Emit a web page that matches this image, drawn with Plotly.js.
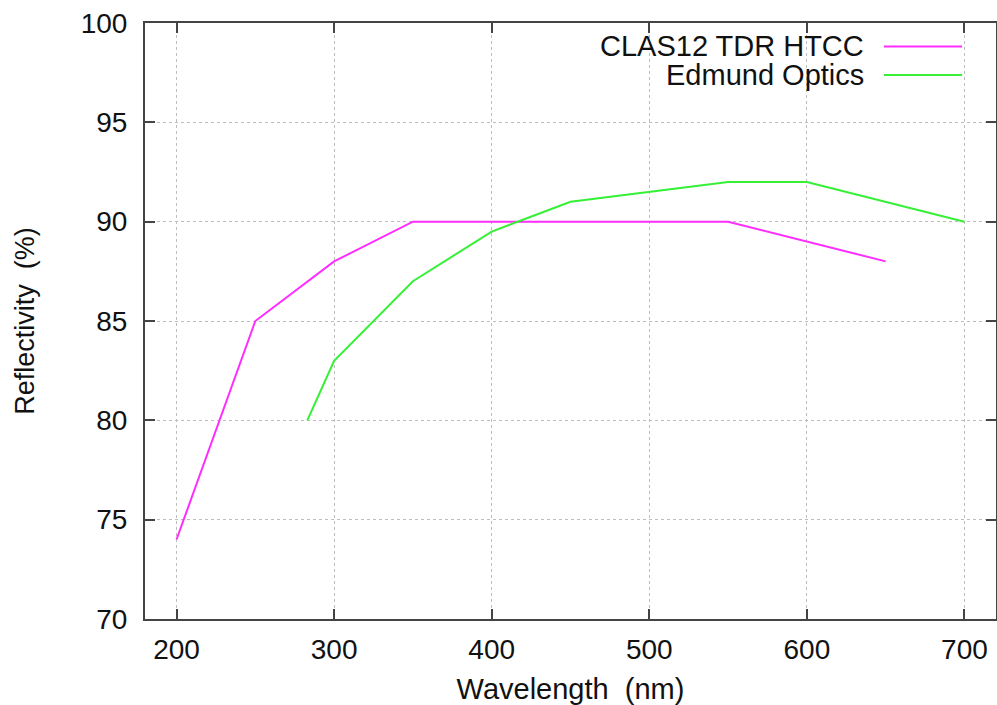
<!DOCTYPE html>
<html>
<head>
<meta charset="utf-8">
<script src="https://cdn.plot.ly/plotly-3.0.1.min.js"></script>
<style>
html,body{margin:0;padding:0;background:#fff;}
#chart{width:997px;height:705px;}
</style>
</head>
<body>
<div id="chart"></div>
<script>
// Data
const clasWavelength = [200, 250, 300, 350, 550, 600, 650];
const clasReflectivity = [74, 85, 88, 90, 90, 89, 88];
const edmundWavelength = [283, 300, 350, 400, 450, 550, 600, 700];
const edmundReflectivity = [80, 83, 87, 89.5, 91, 92, 92, 90];
const seriesNames = ["CLAS12 TDR HTCC", "Edmund Optics"];
const seriesColors = ["#ff2cff", "#35f035"];
const xTicks = [200, 300, 400, 500, 600, 700];
const yTicks = [70, 75, 80, 85, 90, 95, 100];

const font = "Liberation Sans, Arial, Helvetica, sans-serif";
const fs = 29;

const traces = [
  {x: clasWavelength, y: clasReflectivity, name: seriesNames[0], mode: "lines",
   line: {color: seriesColors[0], width: 2}, showlegend: false},
  {x: edmundWavelength, y: edmundReflectivity, name: seriesNames[1], mode: "lines",
   line: {color: seriesColors[1], width: 2}, showlegend: false}
];

const axisCommon = {
  showline: true, linecolor: "#444", linewidth: 2, mirror: "ticks",
  ticks: "inside", ticklen: 10, tickwidth: 2, tickcolor: "#444",
  showgrid: true, gridcolor: "#bdbdbd", gridwidth: 1, griddash: "dot",
  zeroline: false, tickfont: {family: font, size: 28, color: "#111"}
};

// Legend drawn by hand (text on the left, line sample on the right, as in gnuplot)
const W = 997, H = 705, ml = 145, mr = 1, mt = 23, mb = 86;
const pw = W - ml - mr, ph = H - mt - mb;
const px = v => (v - ml) / pw;
const py = v => 1 - (v - mt) / ph;

const shapes = [
  {type: "rect", xref: "paper", yref: "paper", x0: px(588), x1: px(992), y0: py(89), y1: py(24),
   fillcolor: "#fff", line: {width: 0}, layer: "between"},
  {type: "line", xref: "paper", yref: "paper", x0: px(884), x1: px(962), y0: py(46.5), y1: py(46.5),
   line: {color: seriesColors[0], width: 2}},
  {type: "line", xref: "paper", yref: "paper", x0: px(884), x1: px(962), y0: py(75), y1: py(75),
   line: {color: seriesColors[1], width: 2}}
];
const annotations = [
  {xref: "paper", yref: "paper", x: px(866), y: py(46), xanchor: "right", yanchor: "middle",
   text: seriesNames[0], showarrow: false, font: {family: font, size: fs, color: "#111"}},
  {xref: "paper", yref: "paper", x: px(866), y: py(75), xanchor: "right", yanchor: "middle",
   text: seriesNames[1], showarrow: false, font: {family: font, size: fs, color: "#111"}}
];

const layout = {
  width: W, height: H,
  margin: {l: ml, r: mr, t: mt, b: mb},
  paper_bgcolor: "#fff", plot_bgcolor: "#fff",
  showlegend: false,
  xaxis: Object.assign({}, axisCommon, {
    range: [180, 720], tickvals: xTicks, ticktext: xTicks.map(String),
    ticklabelstandoff: 4,
    title: {text: "Wavelength\u00a0 (nm)", font: {family: font, size: fs, color: "#111"}, standoff: 15}
  }),
  yaxis: Object.assign({}, axisCommon, {
    range: [70, 100], tickvals: yTicks, ticktext: yTicks.map(String),
    ticklabelstandoff: 10,
    title: {text: "Reflectivity\u00a0 (%)", font: {family: font, size: 27, color: "#111"}, standoff: 38}
  }),
  shapes: shapes,
  annotations: annotations
};

Plotly.newPlot("chart", traces, layout, {staticPlot: true, displayModeBar: false});
</script>
</body>
</html>
